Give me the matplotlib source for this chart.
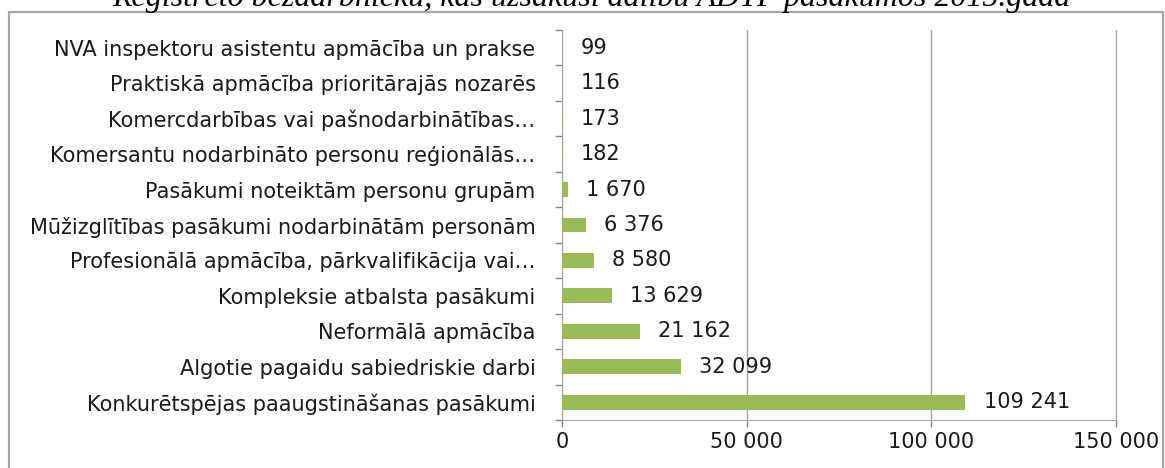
# plot.py
# horizontal bar chart: registered unemployed by ADTP measure, 2015

import matplotlib.pyplot as plt
from matplotlib.patches import Rectangle
import numpy as np

# data (top to bottom as on the picture)
categories = [
    "NVA inspektoru asistentu apmācība un prakse",
    "Praktiskā apmācība prioritārajās nozarēs",
    "Komercdarbības vai pašnodarbinātības…",
    "Komersantu nodarbināto personu reģionālās…",
    "Pasākumi noteiktām personu grupām",
    "Mūžizglītības pasākumi nodarbinātām personām",
    "Profesionālā apmācība, pārkvalifikācija vai…",
    "Kompleksie atbalsta pasākumi",
    "Neformālā apmācība",
    "Algotie pagaidu sabiedriskie darbi",
    "Konkurētspējas paaugstināšanas pasākumi",
]
values = [99, 116, 173, 182, 1670, 6376, 8580, 13629, 21162, 32099, 109241]
xticks = [0, 50000, 100000, 150000]
title = "Reģistrēto bezdarbnieku, kas uzsākuši dalību ADTP pasākumos 2015.gadā"

plt.rcParams['font.family'] = ['DejaVu Sans']

def fmt(v):
    return "{:,}".format(v).replace(",", " ")

fig = plt.figure(figsize=(11.65, 4.68), dpi=100)

# outer chart border
fig.patches.append(Rectangle((9 / 1165, -0.1), 1154 / 1165, 1.1 - 12 / 468,
                             transform=fig.transFigure, fill=False,
                             edgecolor='#a6a6a6', linewidth=1.6))

# title, partly cut at the top like the original
fig.text(591 / 1165, 1 - 6 / 468, title, ha='center', va='baseline',
         family='Liberation Serif', style='italic', fontsize=23, color='black')

ax = fig.add_axes([562 / 1165, 1 - 420 / 468, (1116 - 562) / 1165, 390 / 468])

# bottom category first
y = np.arange(len(categories))[::-1]
ax.barh(y, values, height=0.42, color='#9bbb59', zorder=3)
for yi, v in zip(y, values):
    ax.annotate(fmt(v), (v, yi), xytext=(13, 0), textcoords='offset points',
                va='center', ha='left', fontsize=15, color='#1a1a1a')

ax.set_xlim(0, 150000)
ax.set_ylim(-0.5, len(categories) - 0.5)
ax.set_xticks(xticks)
ax.set_xticklabels([fmt(t) for t in xticks], fontsize=15, color='#1a1a1a')
ax.set_yticks(y)
ax.set_yticklabels(categories, fontsize=15, color='#1a1a1a')
ax.set_yticks(np.arange(len(categories) + 1) - 0.5, minor=True)
ax.tick_params(axis='y', which='major', length=0, pad=19)
ax.tick_params(axis='y', which='minor', length=5, color='#868686', width=1)
ax.tick_params(axis='x', length=5, color='#868686', width=1, pad=4)

ax.grid(axis='x', color='#a6a6a6', linewidth=1, zorder=0)
ax.spines['top'].set_visible(False)
for s in ['left', 'bottom', 'right']:
    ax.spines[s].set_color('#a6a6a6')

plt.savefig('out.png', dpi=100)
